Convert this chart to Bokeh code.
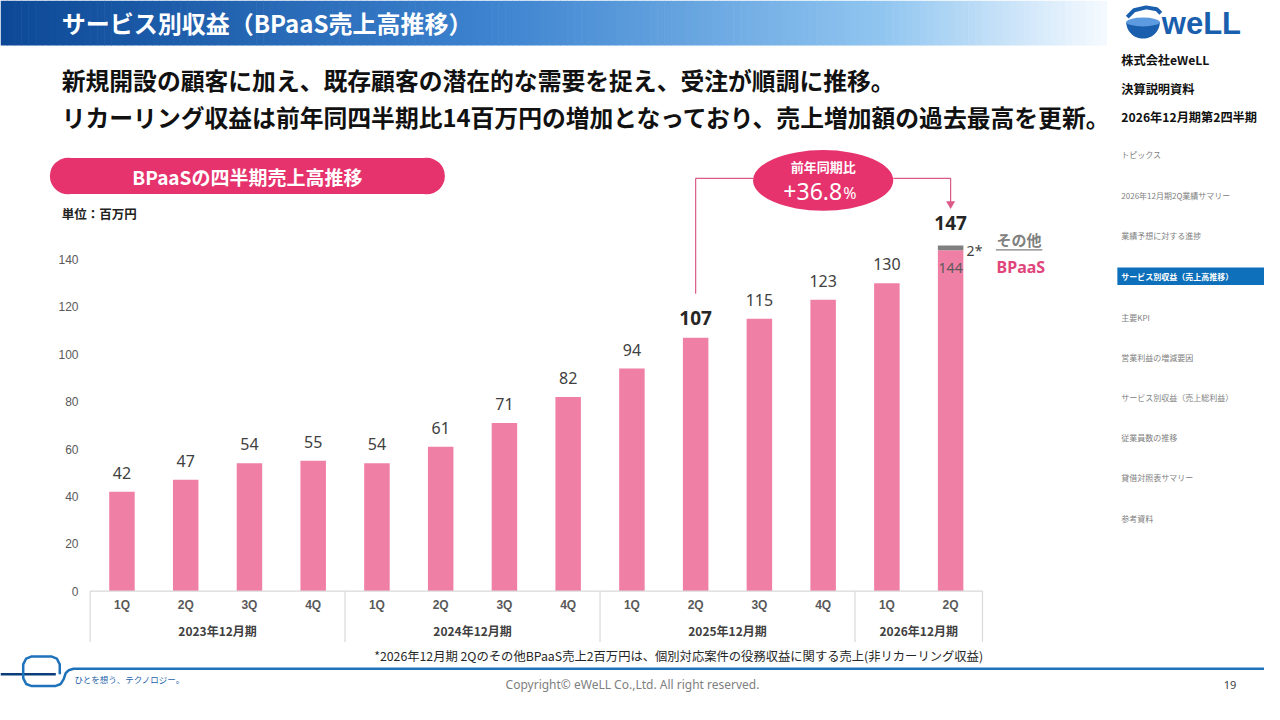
import numpy as np
from bokeh.plotting import figure
from bokeh.models import Range1d, ColumnDataSource
from bokeh.core.properties import value
from bokeh.embed import file_html
from bokeh.resources import INLINE

# ---------------- data ----------------
years = ["2023年12月期", "2024年12月期", "2025年12月期", "2026年12月期"]
quarters_per_year = [4, 4, 4, 2]
quarters = ["1Q", "2Q", "3Q", "4Q", "1Q", "2Q", "3Q", "4Q",
            "1Q", "2Q", "3Q", "4Q", "1Q", "2Q"]
bpaas = [42, 47, 54, 55, 54, 61, 71, 82, 94, 107, 115, 123, 130, 144]
other = [0, 0, 0, 0, 0, 0, 0, 0, 0, 0, 0, 0, 0, 2]
totals = [42, 47, 54, 55, 54, 61, 71, 82, 94, 107, 115, 123, 130, 147]
y_ticks = [0, 20, 40, 60, 80, 100, 120, 140]
bold_idx = [9, 13]          # 107 (前年同期) and 147 (当期)
yoy_text = "+36.8"

title_text = "サービス別収益（BPaaS売上高推移）"
lead_lines = ["新規開設の顧客に加え、既存顧客の潜在的な需要を捉え、受注が順調に推移。",
              "リカーリング収益は前年同四半期比14百万円の増加となっており、売上増加額の過去最高を更新。"]
pill_text = "BPaaSの四半期売上高推移"
unit_text = "単位：百万円"
footnote = "*2026年12月期 2Qのその他BPaaS売上2百万円は、個別対応案件の役務収益に関する売上(非リカーリング収益)"
side_head = ["株式会社eWeLL", "決算説明資料", "2026年12月期第2四半期"]
side_menu = ["トピックス", "2026年12月期2Q業績サマリー", "業績予想に対する進捗",
             "サービス別収益（売上高推移）", "主要KPI", "営業利益の増減要因",
             "サービス別収益（売上総利益）", "従業員数の推移", "貸借対照表サマリー", "参考資料"]
side_active = 3

# ---------------- styles / layout ----------------
JP = value("Noto Sans CJK JP")
NUM = value("Noto Sans")
ARIAL = value("Liberation Sans")
PINK_BAR = "#F07FA6"
PINK = "#E6336E"
GRAY_SEG = "#808080"
BLUE = "#1A5FAE"

W, H = 1264, 704
RW, RH = 1280, 720                  # slide coordinate space
X_FIRST, STEP = 123.0, 64.55        # slide x of first bar, slide px per category
Y_ZERO, PPU = 604.0, 339.0 / 140.0  # slide y of value 0, slide px per unit

p = figure(width=W, height=H, x_range=Range1d(0, RW), y_range=Range1d(RH, 0),
           output_backend="svg", toolbar_location=None, min_border=0,
           x_axis_location=None, y_axis_location=None)
p.grid.visible = False
p.outline_line_color = None
p.background_fill_color = "white"
p.border_fill_color = "white"

p.extra_x_ranges = {"cat": Range1d((0 - X_FIRST) / STEP, (RW - X_FIRST) / STEP)}
p.extra_y_ranges = {"val": Range1d((Y_ZERO - RH) / PPU, (Y_ZERO - 0) / PPU)}

# ---------------- header ----------------
stops = [(0.0, (12, 72, 150)), (0.45, (62, 132, 208)), (0.8, (145, 198, 240)), (1.0, (246, 250, 255))]
n = 160
gx = np.linspace(0, 1120, n + 1)
cols = []
for k in range(n):
    t = (k + 0.5) / n
    for (t0, c0), (t1, c1) in zip(stops[:-1], stops[1:]):
        if t0 <= t <= t1:
            f = (t - t0) / (t1 - t0)
            c = tuple(int(round(a + (b - a) * f)) for a, b in zip(c0, c1))
            cols.append("#%02x%02x%02x" % c)
            break
p.quad(left=gx[:-1], right=gx[1:] + 0.6, top=0, bottom=46, fill_color=cols, line_color=None)
p.text(x=[62], y=[23], text=[title_text], text_font=JP, text_font_size="24px",
       text_font_style="bold", text_color="white", text_baseline="middle")

# lead text
p.text(x=[62, 62], y=[81, 119], text=lead_lines, text_font=JP, text_font_size="23.8px",
       text_font_style="bold", text_color="#111111", text_baseline="middle")

# pill
p.rect(x=[250], y=[179.5], width=363, height=37, fill_color=PINK, line_color=None)
p.circle(x=[68.5, 431.5], y=[179.5, 179.5], radius=18.5, fill_color=PINK, line_color=None)
p.text(x=[250], y=[180], text=[pill_text], text_font=JP, text_font_size="19px",
       text_font_style="bold", text_color="white", text_align="center", text_baseline="middle")
p.text(x=[62], y=[218], text=[unit_text], text_font=JP, text_font_size="12.5px",
       text_font_style="bold", text_color="#222222", text_baseline="middle")

# ---------------- chart ----------------
idx = np.arange(len(quarters))
src = ColumnDataSource(dict(i=idx, bpaas=bpaas, total=totals))
p.vbar(x="i", top="bpaas", bottom=0, width=0.4, source=src,
       x_range_name="cat", y_range_name="val", fill_color=PINK_BAR, line_color=None)
oi = [i for i in idx if other[i] > 0]
p.vbar(x=oi, bottom=[bpaas[i] for i in oi], top=[bpaas[i] + other[i] for i in oi], width=0.4,
       x_range_name="cat", y_range_name="val", fill_color=GRAY_SEG, line_color=None)

# y tick labels
p.text(x=[79] * len(y_ticks), y=y_ticks, text=[str(t) for t in y_ticks], y_range_name="val",
       text_font=ARIAL, text_font_size="12px", text_color="#595959",
       text_align="right", text_baseline="middle")

# baseline and group separators
p.segment(x0=[-0.5], x1=[len(quarters) - 0.5], y0=[0], y1=[0],
          x_range_name="cat", y_range_name="val", line_color="#d9d9d9", line_width=1.2)
bounds = [-0.5] + list(np.cumsum(quarters_per_year) - 0.5)
p.segment(x0=bounds, x1=bounds, y0=[604] * len(bounds), y1=[656] * len(bounds),
          x_range_name="cat", line_color="#d9d9d9", line_width=1.2)
p.text(x=idx, y=[618] * len(idx), text=quarters, x_range_name="cat",
       text_font=ARIAL, text_font_size="12px", text_font_style="bold", text_color="#595959",
       text_align="center", text_baseline="middle")
starts = np.cumsum([0] + quarters_per_year[:-1])
centers = [s + q / 2 - 0.5 for s, q in zip(starts, quarters_per_year)]
p.text(x=centers, y=[644] * len(centers), text=years, x_range_name="cat",
       text_font=JP, text_font_size="12px", text_font_style="bold", text_color="#404040",
       text_align="center", text_baseline="middle")

# value labels
ni = [i for i in idx if i not in bold_idx]
p.text(x=ni, y=[totals[i] for i in ni], text=[str(totals[i]) for i in ni],
       x_range_name="cat", y_range_name="val", y_offset=-19,
       text_font=NUM, text_font_size="16px", text_color="#404040",
       text_align="center", text_baseline="middle")
p.text(x=bold_idx, y=[totals[i] for i in bold_idx], text=[str(totals[i]) for i in bold_idx],
       x_range_name="cat", y_range_name="val", y_offset=-20,
       text_font=NUM, text_font_size="19px", text_font_style="bold", text_color="#262626",
       text_align="center", text_baseline="middle")
last = len(idx) - 1
p.text(x=[last], y=[bpaas[last]], text=[str(bpaas[last])], x_range_name="cat", y_range_name="val",
       y_offset=18, text_font=NUM, text_font_size="14px", text_color="#595959",
       text_align="center", text_baseline="middle")
p.text(x=[last], y=[bpaas[last] + other[last]], text=[str(other[last]) + "*"],
       x_range_name="cat", y_range_name="val",
       x_offset=16, y_offset=5, text_font=NUM, text_font_size="14px", text_color="#404040",
       text_baseline="middle")
# series names
p.text(x=[last], y=[bpaas[last] + other[last]], text=["その他"], x_range_name="cat", y_range_name="val",
       x_offset=46, y_offset=-6, text_font=JP, text_font_size="15px", text_font_style="bold",
       text_color="#808080", text_baseline="middle")
p.segment(x0=[1008], x1=[1055], y0=[255], y1=[255], line_color="#808080", line_width=1.3)
p.text(x=[last], y=[bpaas[last]], text=["BPaaS"], x_range_name="cat", y_range_name="val",
       x_offset=46, y_offset=17, text_font=NUM, text_font_size="16px", text_font_style="bold",
       text_color="#E0457B", text_baseline="middle")

# YoY callout
a, b = bold_idx
mid = (a + b) / 2
LC = "#DC5A88"
p.line(x=[a, a, mid - 2.2 / 2], y=[300, 182, 182], x_range_name="cat", line_color=LC, line_width=1.2)
p.line(x=[mid + 2.2 / 2, b, b], y=[182, 182, 206], x_range_name="cat", line_color=LC, line_width=1.2)
p.scatter(x=[b], y=[208], marker="inverted_triangle", size=9, x_range_name="cat",
          fill_color=LC, line_color=None)
p.ellipse(x=[mid], y=[184], width=2.2, height=62, x_range_name="cat",
          fill_color=PINK, line_color=None)
p.text(x=[mid], y=[170], text=["前年同期比"], x_range_name="cat", text_font=JP, text_font_size="13px",
       text_font_style="bold", text_color="white", text_align="center", text_baseline="middle")
p.text(x=[mid], y=[195], text=[yoy_text], x_range_name="cat", x_offset=19, text_font=NUM,
       text_font_size="23px", text_color="white", text_align="right", text_baseline="middle")
p.text(x=[mid], y=[197], text=["%"], x_range_name="cat", x_offset=20, text_font=NUM,
       text_font_size="16px", text_color="white", text_align="left", text_baseline="middle")

# footnote
p.text(x=[995], y=[670], text=[footnote], text_font=JP, text_font_size="12.3px",
       text_color="#262626", text_align="right", text_baseline="middle")

# ---------------- sidebar ----------------
th = np.linspace(0, np.pi, 40)
p.patch(x=list(1157 + 17 * np.cos(th)), y=list(22 + 17 * np.sin(th)), fill_color=BLUE, line_color=None)
p.ellipse(x=[1157], y=[22], width=34, height=9, fill_color="#5d9be0", line_color=None)
p.line(x=[1141, 1148, 1160, 1171, 1175], y=[17, 10, 7, 9, 13], line_color=BLUE, line_width=4)
p.text(x=[1176], y=[24], text=["weLL"], text_font=ARIAL, text_font_size="31px",
       text_font_style="bold", text_color=BLUE, text_baseline="middle")
p.text(x=[1135] * 3, y=[61, 90, 119], text=side_head, text_font=JP, text_font_size="12.2px",
       text_font_style="bold", text_color="#111111", text_baseline="middle")
menu_y = [158, 199, 240, 282, 324, 365, 406, 447, 488, 530]
p.quad(left=[1131], right=[1280], top=[273], bottom=[291], fill_color="#0E6FBA", line_color=None)
mi = [k for k in range(len(side_menu)) if k != side_active]
p.text(x=[1135] * len(mi), y=[menu_y[k] for k in mi], text=[side_menu[k] for k in mi],
       text_font=JP, text_font_size="8px", text_color="#808080", text_baseline="middle")
p.text(x=[1135], y=[menu_y[side_active]], text=[side_menu[side_active]], text_font=JP,
       text_font_size="8px", text_font_style="bold", text_color="white", text_baseline="middle")

# ---------------- footer ----------------
p.line(x=[0, 56], y=[689, 689], line_color="#0A3D7A", line_width=2.5)
ex = [60, 60, 57, 52, 31, 26, 23, 23, 26, 31, 56, 61, 64, 66, 69, 74, 1280]
ey = [689, 679, 673, 671, 671, 673, 679, 693, 699, 701, 701, 699, 694, 688, 685, 683.5, 683.5]
p.line(x=ex, y=ey, line_color="#1E72BA", line_width=2.5)
p.text(x=[75], y=[694], text=["ひとを想う、テクノロジー。"], text_font=JP, text_font_size="8.5px",
       text_color="#1E5FA8", text_baseline="middle")
p.text(x=[640], y=[700], text=["Copyright© eWeLL Co.,Ltd. All right reserved."], text_font=NUM,
       text_font_size="12px", text_color="#808080", text_align="center", text_baseline="middle")
p.text(x=[1245], y=[700], text=["19"], text_font=NUM, text_font_size="11px",
       text_color="#404040", text_align="center", text_baseline="middle")

open("out.html", "w").write(file_html(p, INLINE))
